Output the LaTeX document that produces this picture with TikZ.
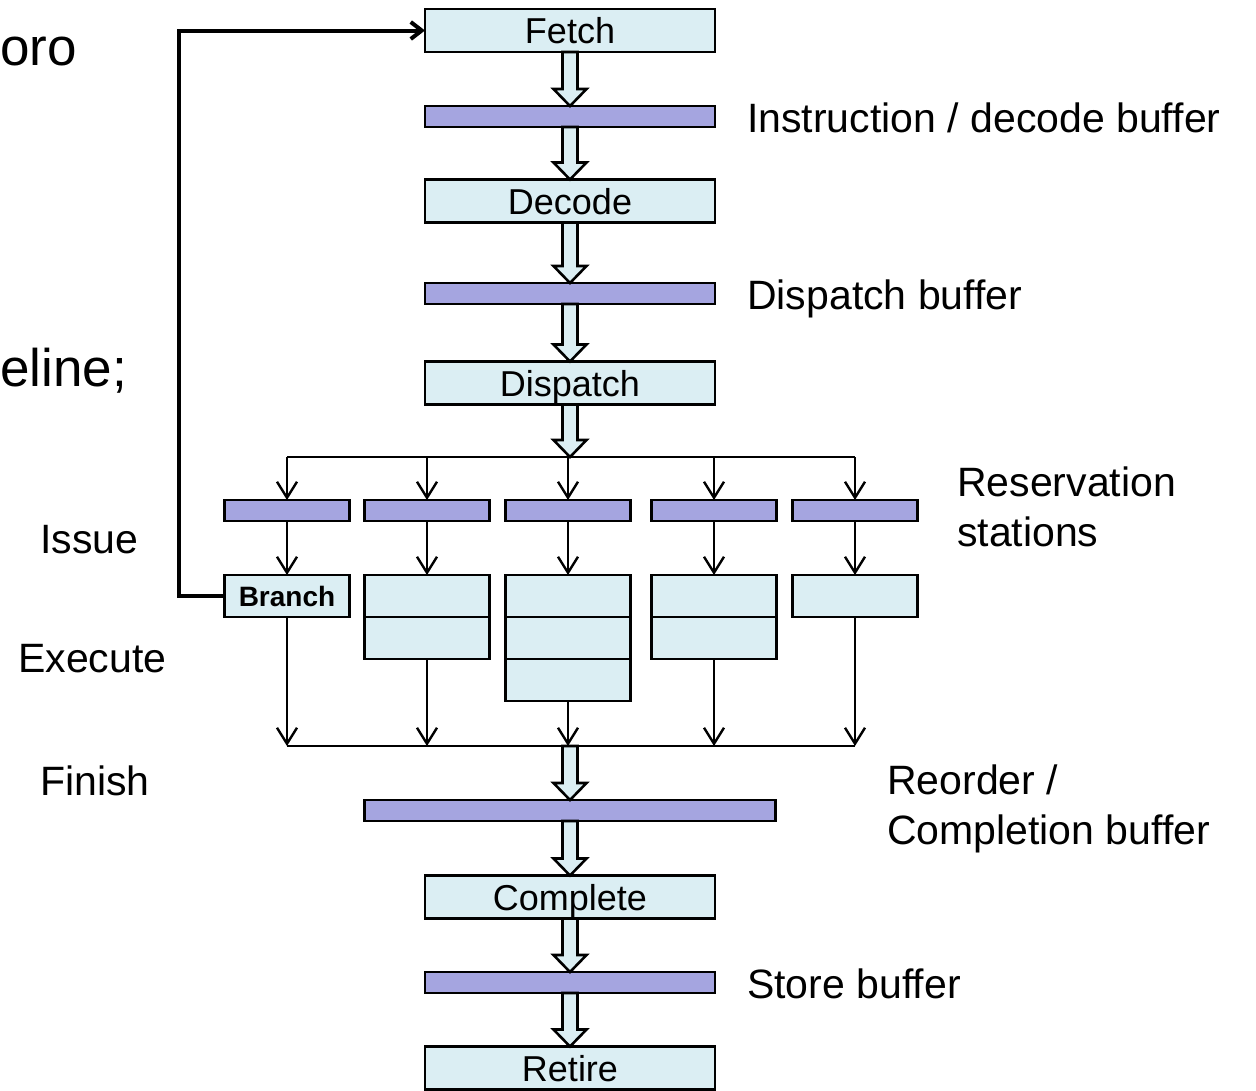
\documentclass[tikz,border=0pt]{standalone}
\usepackage{fontspec}
\setmainfont{Liberation Sans}
\usetikzlibrary{arrows.meta,positioning,calc}
\definecolor{stagefill}{RGB}{219,238,243}
\definecolor{buffill}{RGB}{165,165,224}
\newcommand{\fatarrow}[2]{%
  \path[fat] let \p1=(#1), \p2=(#2) in
    (\x1-7.5pt,\y1) -- (\x1-7.5pt,\y2+17pt) -- (\x1-16.5pt,\y2+17pt) -- (\x1,\y2)
    -- (\x1+16.5pt,\y2+17pt) -- (\x1+7.5pt,\y2+17pt) -- (\x1+7.5pt,\y1) -- cycle;}
\begin{document}
\begin{tikzpicture}[x=1pt, y=-1pt,
    stage/.style={draw, line width=2.8pt, fill=stagefill, minimum width=290pt, minimum height=43pt,
      inner sep=0pt, outer sep=0pt, text height=26pt, text depth=0pt, font=\fontsize{36}{40}\selectfont},
    buf/.style={draw, line width=2.8pt, fill=buffill, minimum width=290pt, minimum height=21pt, inner sep=0pt, outer sep=0pt},
    rsbuf/.style={buf, minimum width=125pt},
    unit/.style={draw, line width=2.8pt, fill=stagefill, minimum width=125pt, minimum height=42pt, inner sep=0pt, outer sep=0pt},
    flow/.style={line width=2.4pt, -{Straight Barb[length=16pt,width=20pt]}},
    fat/.style={draw, line width=2.6pt, fill=stagefill},
    lbl/.style={anchor=base west, inner sep=0pt, font=\fontsize{41}{50}\selectfont},
    slide/.style={anchor=base west, inner sep=0pt, font=\fontsize{53}{60}\selectfont}]
  \useasboundingbox (0,0) rectangle (1256,1090);

  % leftover slide text
  \node[slide] (pro) at (0,65) {oro};
  \node[slide] (pipe) at (0,386) {eline;};

  % in-order front end
  \node[stage] (fetch) at (570,30.5) {Fetch};
  \node[buf] (ibuf) at (570,116.5) {};
  \node[stage] (decode) at (570,201) {Decode};
  \node[buf] (dbuf) at (570,293.5) {};
  \node[stage] (dispatch) at (570,383) {Dispatch};

  % reservation stations and functional units
  \foreach \x [count=\i] in {287,427,568,714,855} {
    \coordinate (d\i) at (\x,457);
    \node[rsbuf] (rs\i) at (\x,510.5) {};
    \coordinate (c\i) at (\x,746);
  }
  \node[unit, font=\bfseries\fontsize{28}{30}\selectfont] (fu1) at (287,596) {Branch};
  \node[unit] (fu2) at (427,596) {};
  \node[unit, below=0pt of fu2] (fu2b) {};
  \node[unit] (fu3) at (568,596) {};
  \node[unit, below=0pt of fu3] (fu3b) {};
  \node[unit, below=0pt of fu3b] (fu3c) {};
  \node[unit] (fu4) at (714,596) {};
  \node[unit, below=0pt of fu4] (fu4b) {};
  \node[unit] (fu5) at (855,596) {};

  % in-order back end
  \node[buf, minimum width=411pt] (rob) at (570,810.5) {};
  \node[stage] (complete) at (570,897) {Complete};
  \node[buf] (sbuf) at (570,982.5) {};
  \node[stage] (retire) at (570,1068) {Retire};

  % thin connectors
  \draw[line width=2.4pt] (d1) -- (d5);
  \draw[line width=2.4pt] (c1) -- (c5);
  \foreach \i in {1,...,5} {
    \draw[flow] (d\i) -- (rs\i);
    \draw[flow] (rs\i) -- (fu\i);
  }
  \foreach \u/\i in {fu1/1, fu2b/2, fu3c/3, fu4b/4, fu5/5}
    \draw[flow] (\u) -- (c\i);

  % wide arrows
  \fatarrow{fetch.south}{ibuf.north}
  \fatarrow{ibuf.south}{decode.north}
  \fatarrow{decode.south}{dbuf.north}
  \fatarrow{dbuf.south}{dispatch.north}
  \fatarrow{dispatch.south}{dispatch.south |- d3}
  \fatarrow{rob.north |- c3}{rob.north}
  \fatarrow{rob.south}{complete.north}
  \fatarrow{complete.south}{sbuf.north}
  \fatarrow{sbuf.south}{retire.north}

  % branch feedback
  \draw[line width=4pt, -{Straight Barb[length=11pt,width=17pt]}] (fu1.west) -- ++(-46,0) |- (fetch.west);

  % labels
  \node[lbl] (ibuflbl) at (747,132) {Instruction / decode buffer};
  \node[lbl] (dbuflbl) at (747,309) {Dispatch buffer};
  \node[lbl, anchor=north west, align=left] (rslbl) at (957,467) {Reservation\\stations};
  \node[lbl, anchor=north west, align=left] (roblbl) at (887,765) {Reorder /\\Completion buffer};
  \node[lbl] (sbuflbl) at (747,998) {Store buffer};
  \node[lbl] (issue) at (40,553) {Issue};
  \node[lbl] (execute) at (18,672) {Execute};
  \node[lbl] (finish) at (40,795) {Finish};
\end{tikzpicture}
\end{document}
